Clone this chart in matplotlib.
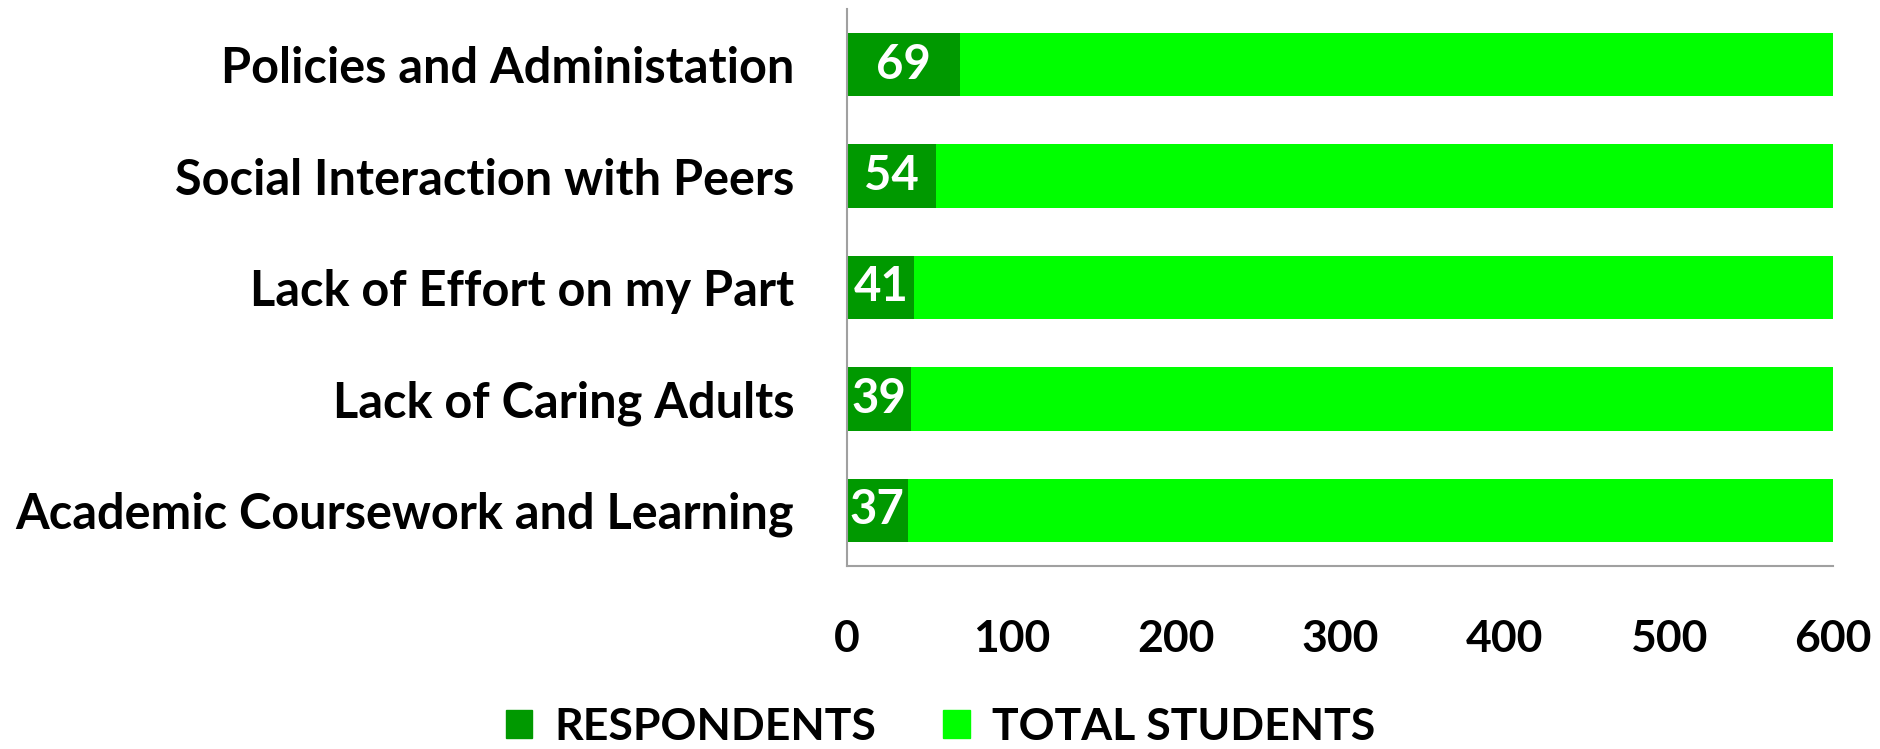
import matplotlib
matplotlib.use("Agg")
import matplotlib.pyplot as plt
from matplotlib.patches import Patch

categories = ["Policies and Administation", "Social Interaction with Peers",
              "Lack of Effort on my Part", "Lack of Caring Adults",
              "Academic Coursework and Learning"]
respondents = [69, 54, 41, 39, 37]
total_students = [600, 600, 600, 600, 600]
xticks = [0, 100, 200, 300, 400, 500, 600]

dark = "#009900"
bright = "#00ff00"

plt.rcParams['font.family'] = ['Lato', 'DejaVu Sans']

fig = plt.figure(figsize=(18.81, 7.49), dpi=100)
ax = fig.add_axes([847/1881, 1 - 566/749, (1833-847)/1881, (566-9)/749])

ypos = list(range(len(categories)))[::-1]
ax.barh(ypos, total_students, height=0.57, color=bright, zorder=1)
ax.barh(ypos, respondents, height=0.57, color=dark, zorder=2)

# valeurs des répondants, centrées dans la partie foncée
for y, v in zip(ypos, respondents):
    ax.text(v / 2, y, str(v), ha='center', va='center', color='white',
            fontsize=34, fontweight='bold', zorder=3)

ax.set_xlim(0, 600)
ax.set_ylim(-0.5, 4.5)
ax.set_xticks(xticks)
ax.set_xticklabels([str(t) for t in xticks], fontsize=32, fontweight='bold')
ax.set_yticks(ypos)
ax.set_yticklabels(categories, fontsize=35, fontweight='bold')
ax.tick_params(length=0)
ax.tick_params(axis='x', pad=38)
ax.tick_params(axis='y', pad=38)

for s in ['top', 'right']:
    ax.spines[s].set_visible(False)
for s in ['left', 'bottom']:
    ax.spines[s].set_color('#a0a0a0')
    ax.spines[s].set_linewidth(1.5)

handles = [Patch(color=dark, label='RESPONDENTS'), Patch(color=bright, label='TOTAL STUDENTS')]
fig.legend(handles=handles, loc='center', bbox_to_anchor=(0.5, 1 - 727/749), ncol=2,
           frameon=False, prop={'size': 32, 'weight': 'bold'},
           handlelength=0.6, handleheight=0.6, columnspacing=1.5, handletextpad=0.5)

fig.savefig("out.png", dpi=100)
